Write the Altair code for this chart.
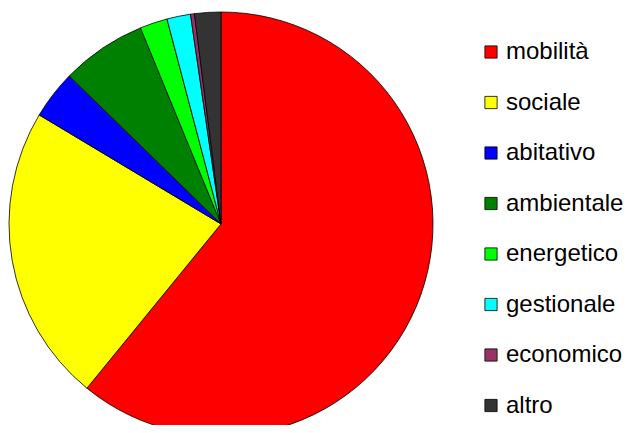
import altair as alt
import pandas as pd

categories = ["mobilità", "sociale", "abitativo", "ambientale", "energetico", "gestionale", "economico", "altro"]
values = [60.9, 22.7, 3.7, 6.5, 2.1, 1.8, 0.3, 2.0]
colors = ["#FF0000", "#FFFF00", "#0000FF", "#008000", "#00FF00", "#00FFFF", "#993366", "#333333"]

df = pd.DataFrame({"categoria": categories, "valore": values, "ordine": list(range(len(categories)))})

chart = alt.Chart(df).mark_arc(stroke="black", strokeWidth=0.8, outerRadius=212).encode(
    theta=alt.Theta("valore:Q", stack=True),
    order=alt.Order("ordine:Q"),
    color=alt.Color(
        "categoria:N",
        scale=alt.Scale(domain=categories, range=colors),
        sort=categories,
        legend=alt.Legend(
            title=None,
            orient="none",
            legendX=471,
            legendY=32,
            symbolType="square",
            symbolSize=150,
            symbolStrokeColor="black",
            symbolStrokeWidth=0.8,
            labelFontSize=24,
            labelFont="Liberation Sans",
            labelColor="black",
            rowPadding=26.5,
            labelOffset=3,
            labelLimit=0,
        ),
    ),
    x=alt.value(213),
    y=alt.value(216),
).properties(
    width=618, height=417, padding=0, autosize=alt.AutoSizeParams(type="none")
).configure_view(stroke=None)

chart.save("out.html", embed_options={"renderer": "svg", "actions": False})
